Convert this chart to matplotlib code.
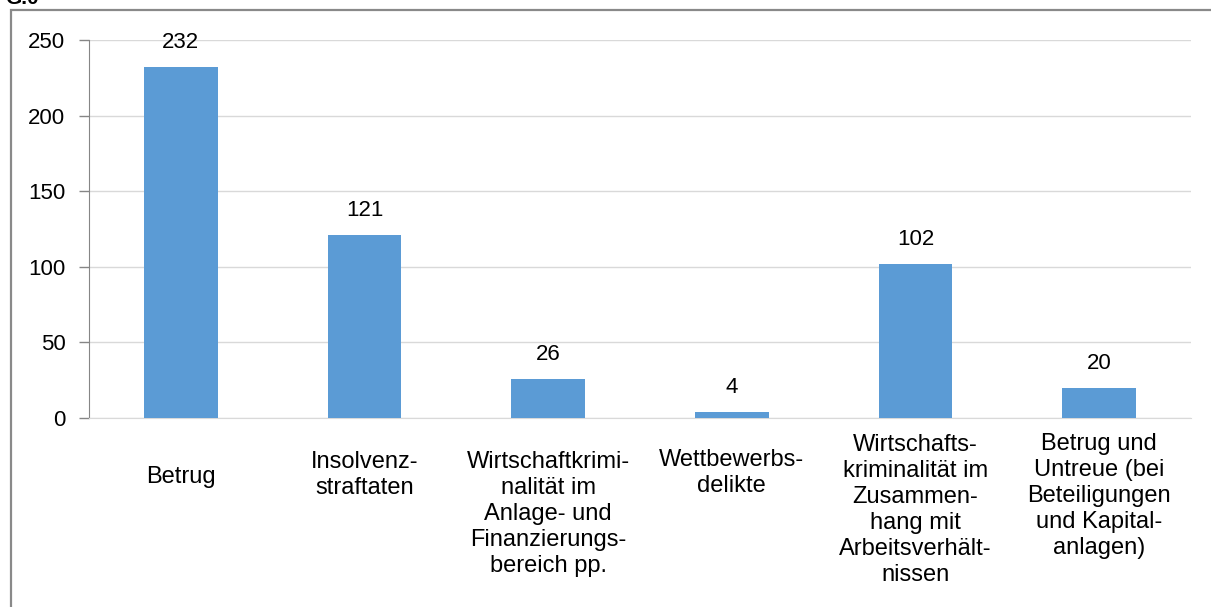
import matplotlib
matplotlib.use("Agg")
import matplotlib.pyplot as plt
from matplotlib.patches import Rectangle
from matplotlib.transforms import blended_transform_factory

plt.rcParams['font.family'] = ['Liberation Sans', 'DejaVu Sans']

categories = [
    "Betrug",
    "Insolvenz-\nstraftaten",
    "Wirtschaftkrimi-\nnalität im\nAnlage- und\nFinanzierungs-\nbereich pp.",
    "Wettbewerbs-\ndelikte",
    "Wirtschafts-\nkriminalität im\nZusammen-\nhang mit\nArbeitsverhält-\nnissen",
    "Betrug und\nUntreue (bei\nBeteiligungen\nund Kapital-\nanlagen)",
]
values = [232, 121, 26, 4, 102, 20]
yticks = [0, 50, 100, 150, 200, 250]
# how far each category label starts below the axis, in pixels
label_drop = [48, 33, 33, 31, 16, 15]

fig = plt.figure(figsize=(12.11, 6.07), dpi=100)
ax = fig.add_axes([89 / 1211, 1 - 418 / 607, 1102 / 1211, 378 / 607])

x = range(len(values))
bars = ax.bar(x, values, width=0.4, color="#5B9BD5", zorder=3)

for b, v in zip(bars, values):
    ax.annotate(str(v), (b.get_x() + b.get_width() / 2, v), xytext=(0, 10),
                textcoords="offset points", ha="center", va="bottom",
                fontsize=16, color="black")

ax.set_xlim(-0.5, len(values) - 0.5)
ax.set_ylim(0, 250)
ax.set_yticks(yticks)
ax.set_yticklabels([str(t) for t in yticks], fontsize=16)
ax.tick_params(axis="y", length=7, width=1, color="#868686", pad=10)
ax.set_xticks([])

ax.grid(axis="y", color="#D9D9D9", linewidth=1, zorder=0)
ax.set_axisbelow(True)
for s in ["top", "right"]:
    ax.spines[s].set_visible(False)
ax.spines["left"].set_color("#868686")
ax.spines["bottom"].set_color("#D9D9D9")

trans = blended_transform_factory(ax.transData, fig.transFigure)
for i, (lab, d) in enumerate(zip(categories, label_drop)):
    ax.text(i, 1 - (418 + d) / 607, lab, transform=trans,
            ha="center", va="top", fontsize=17, linespacing=1.23,
            multialignment="center")

# outer frame
fig.patches.append(Rectangle((11 / 1211, -0.1), 1.2, 1 - 10 / 607 + 0.1,
                             transform=fig.transFigure, fill=False,
                             edgecolor="#898989", linewidth=1.6))
fig.text(5 / 1211, 1 - 4 / 607, "G.0", fontsize=15, fontweight="bold",
         va="baseline", ha="left")

fig.savefig("out.png", dpi=100)
